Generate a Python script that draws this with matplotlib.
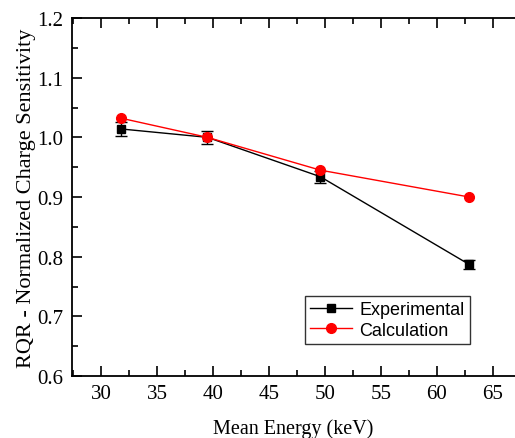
import numpy as np
import matplotlib
matplotlib.use('Agg')
import matplotlib.pyplot as plt
from matplotlib.ticker import MultipleLocator
from matplotlib.lines import Line2D

# data
energy_exp = [31.8, 39.5, 49.6, 62.9]
sens_exp = [1.014, 1.000, 0.934, 0.787]
err_exp = [0.011, 0.011, 0.010, 0.008]

energy_calc = [31.8, 39.5, 49.6, 62.9]
sens_calc = [1.032, 1.000, 0.945, 0.900]

plt.rcParams['font.family'] = 'Liberation Serif'

fig = plt.figure(figsize=(5.15, 4.39), dpi=100)
W, H = 515., 439.
ax = fig.add_axes([72/W, 1-377/H, 1-72/W, (377-19)/H])

ax.errorbar(energy_exp, sens_exp, yerr=err_exp, color='k', marker='s', ms=6,
            lw=1, capsize=4, elinewidth=1, capthick=1, zorder=2)
ax.plot(energy_calc, sens_calc, color='red', marker='o', ms=7, lw=1, zorder=3)

ax.set_xlim(27.4, 67.0)
ax.set_ylim(0.6, 1.2)
ax.xaxis.set_major_locator(MultipleLocator(5))
ax.xaxis.set_minor_locator(MultipleLocator(2.5))
ax.yaxis.set_major_locator(MultipleLocator(0.1))
ax.yaxis.set_minor_locator(MultipleLocator(0.05))
ax.yaxis.set_major_formatter(matplotlib.ticker.FormatStrFormatter('%.1f'))
ax.tick_params(which='both', direction='in', top=True, right=False, width=1.2,
               labelsize=15, pad=6)
ax.tick_params(which='major', length=7)
ax.tick_params(which='minor', length=4)
for s in ['left', 'bottom', 'top']:
    ax.spines[s].set_linewidth(1.3)
ax.spines['right'].set_visible(False)

ax.set_xlabel('Mean Energy (keV)', fontsize=14.5)
ax.set_ylabel('RQR - Normalized Charge Sensitivity', fontsize=16)
ax.xaxis.set_label_coords(0.5, -(419-377)/358.)
ax.yaxis.set_label_coords((36-72)/443., 0.5)

handles = [Line2D([], [], color='k', marker='s', ms=6, lw=1),
           Line2D([], [], color='red', marker='o', ms=7, lw=1)]
labels = ['Experimental', 'Calculation']
leg = ax.legend(handles, labels, loc='lower left', bbox_to_anchor=((305-72)/(W-72), (377-345)/(377-19)),
                prop={'family': 'Liberation Sans', 'size': 13}, frameon=True,
                fancybox=False, edgecolor='k', borderpad=0.3, handlelength=2.3,
                labelspacing=0.2, handletextpad=0.4, borderaxespad=0)
leg.get_frame().set_linewidth(1)

fig.savefig('out.png', dpi=100)
